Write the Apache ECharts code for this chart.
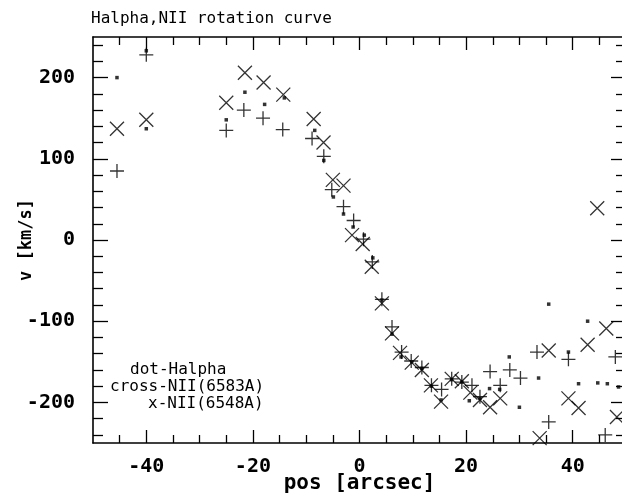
<!DOCTYPE html>
<html>
<head>
<meta charset="utf-8">
<title>Halpha,NII rotation curve</title>
<script src="https://cdn.jsdelivr.net/npm/echarts@6/dist/echarts.min.js"></script>
<style>
  html, body { margin: 0; padding: 0; background: #fff; }
  #chart { width: 622px; height: 493px; }
</style>
</head>
<body>
<div id="chart"></div>
<script>
// Halpha measurements: [pos (arcsec), v (km/s)]
var halpha = [
  [-45.5, 200], [-40, 233], [-40, 137], [-25, 148], [-21.5, 182], [-17.8, 167],
  [-14.1, 175], [-8.4, 135], [-6.7, 98], [-4.9, 53], [-3, 32], [-1.2, 16],
  [0.9, 6], [2.5, -22], [4.2, -74], [6.1, -116], [7.8, -144], [9.8, -150],
  [11.7, -158], [13.5, -180], [15.3, -197], [17.3, -172], [19.2, -175],
  [20.6, -198], [22.6, -195], [24.4, -183], [26.3, -184], [28.1, -144],
  [30, -206], [33.6, -170], [35.5, -79], [39.2, -138], [41.1, -177],
  [42.8, -100], [44.7, -176], [46.5, -177], [48.6, -181]
];

// NII 6583A measurements
var nii6583 = [
  [-45.5, 85], [-40, 228], [-25, 135], [-21.7, 160], [-18.1, 150], [-14.4, 136],
  [-8.9, 125], [-6.7, 103], [-5.2, 62], [-3, 41], [-1.1, 24], [0.75, 1],
  [2.4, -27], [4.2, -73], [6.1, -107], [7.9, -138], [9.7, -149], [11.7, -157],
  [13.5, -179], [15.4, -184], [17.3, -171], [19.2, -175], [21.1, -179],
  [22.6, -193], [24.5, -162], [26.4, -179], [28.2, -160], [30.2, -170],
  [33.3, -138], [35.5, -224], [39.2, -147], [46.1, -240], [48, -144]
];

// NII 6548A measurements
var nii6548 = [
  [-45.5, 137], [-40, 148], [-25, 169], [-21.5, 206], [-18, 194], [-14.3, 179],
  [-8.6, 149], [-6.75, 120], [-5, 74], [-3, 67], [-1.4, 6], [0.6, -5],
  [2.3, -33], [4.2, -78], [6.1, -115], [7.6, -139], [9.8, -151], [11.7, -160],
  [13.4, -179], [15.3, -199], [17.3, -171], [19.2, -174], [20.8, -188],
  [22.6, -197], [24.5, -206], [26.4, -195], [33.8, -244], [35.5, -136],
  [39.2, -195], [41.1, -207], [42.8, -129], [44.6, 39], [46.3, -109], [48.3, -218]
];

// Axis ticks
var xMajorTicks = [-40, -20, 0, 20, 40];
var xMinorTicks = [-45, -35, -30, -25, -15, -10, -5, 5, 10, 15, 25, 30, 35, 45];
var yMajorTicks = [-200, -100, 0, 100, 200];
var yMinorTicks = [-240, -220, -180, -160, -140, -120, -80, -60, -40, -20,
                   20, 40, 60, 80, 120, 140, 160, 180, 220, 240];

var legendLines = ['dot-Halpha', 'cross-NII(6583A)', 'x-NII(6548A)'];

var MONO = '"DejaVu Sans Mono", "Liberation Mono", monospace';
var INK = '#000';

function axisPair(dim, pos, showLine, ticks, len, labels, extra) {
  var a = {
    type: 'value',
    position: pos,
    min: dim === 'x' ? -50 : -250,
    max: dim === 'x' ? 50 : 250,
    splitLine: { show: false },
    axisLine: { show: showLine, onZero: false, lineStyle: { color: INK, width: 1.6 } },
    axisTick: { show: true, inside: true, length: len, customValues: ticks,
                lineStyle: { color: INK, width: 1.3 } },
    axisLabel: labels ? {
      show: true, customValues: labels, color: INK,
      fontFamily: MONO, fontSize: 20, fontWeight: 'bold',
      margin: dim === 'x' ? 14 : 18
    } : { show: false }
  };
  if (extra) for (var k in extra) a[k] = extra[k];
  return a;
}

var chart = echarts.init(document.getElementById('chart'), null, { renderer: 'canvas' });

var plusPath = 'path://M0,7L14,7M7,0L7,14';
var crossPath = 'path://M0,0L14,14M14,0L0,14';

chart.setOption({
  animation: false,
  backgroundColor: '#fff',
  title: {
    text: 'Halpha,NII rotation curve',
    left: 86, top: 6,
    textStyle: { fontFamily: MONO, fontSize: 16, fontWeight: 'normal', color: INK }
  },
  grid: { left: 93, top: 37, width: 533, height: 406,
          containLabel: false, outerBoundsMode: 'none' },
  xAxis: [
    axisPair('x', 'bottom', true, xMajorTicks, 13, xMajorTicks, {
      name: 'pos [arcsec]', nameLocation: 'middle', nameGap: 30, nameMoveOverlap: false,
      nameTextStyle: { fontFamily: MONO, fontSize: 21, fontWeight: 'bold', color: INK }
    }),
    axisPair('x', 'bottom', false, xMinorTicks, 8, null),
    axisPair('x', 'top', true, xMajorTicks, 13, null),
    axisPair('x', 'top', false, xMinorTicks, 8, null)
  ],
  yAxis: [
    axisPair('y', 'left', true, yMajorTicks, 15, yMajorTicks, {
      name: 'v [km/s]', nameLocation: 'middle', nameGap: 58, nameRotate: 90,
      nameMoveOverlap: false,
      nameTextStyle: { fontFamily: MONO, fontSize: 17, fontWeight: 'bold', color: INK }
    }),
    axisPair('y', 'left', false, yMinorTicks, 10, null),
    axisPair('y', 'right', true, yMajorTicks, 15, null),
    axisPair('y', 'right', false, yMinorTicks, 10, null)
  ],
  graphic: legendLines.map(function (t, i) {
    return {
      type: 'text',
      left: [130, 110, 148][i],
      top: 362 + i * 17,
      style: { text: t, font: '16px ' + MONO, fill: INK }
    };
  }),
  series: [
    {
      name: 'dot-Halpha', type: 'scatter', data: halpha,
      symbol: 'rect', symbolSize: 3.5,
      itemStyle: { color: INK }
    },
    {
      name: 'cross-NII(6583A)', type: 'scatter', data: nii6583,
      symbol: plusPath, symbolSize: 14,
      itemStyle: { color: INK, borderColor: INK, borderWidth: 1.3 }
    },
    {
      name: 'x-NII(6548A)', type: 'scatter', data: nii6548,
      symbol: crossPath, symbolSize: 14,
      itemStyle: { color: INK, borderColor: INK, borderWidth: 1.3 }
    }
  ]
});
</script>
</body>
</html>
